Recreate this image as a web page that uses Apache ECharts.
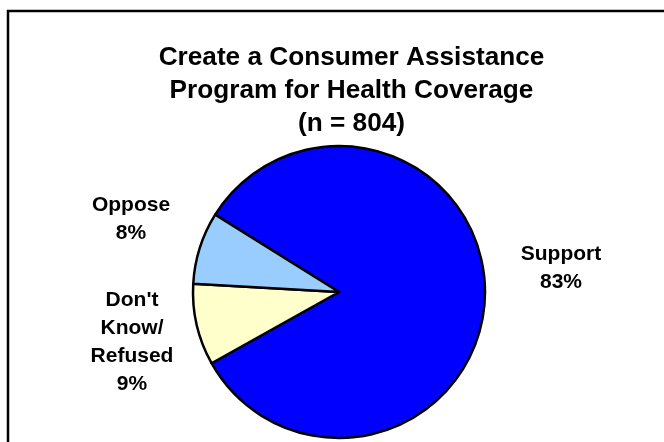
<!DOCTYPE html>
<html>
<head>
<meta charset="utf-8">
<script src="https://cdn.jsdelivr.net/npm/echarts@6/dist/echarts.min.js"></script>
<style>
html,body{margin:0;padding:0;background:#fff;}
#chart{width:664px;height:442px;}
</style>
</head>
<body>
<div id="chart"></div>
<script>
var titleLines = ['Create a Consumer Assistance', 'Program for Health Coverage', '(n = 804)'];
var categories = ['Support', "Don't\nKnow/\nRefused", 'Oppose'];
var values = [83, 9, 8];
var colors = ['#0000FF', '#FFFFCC', '#99CCFF'];

var labelPos = [[561, 268], [132, 342], [131, 219]];

var chart = echarts.init(document.getElementById('chart'));
chart.setOption({
  backgroundColor: '#ffffff',
  animation: false,
  title: {
    text: titleLines.join('\n'),
    left: 346.5,
    top: 36,
    textAlign: 'center',
    textStyle: {
      fontFamily: 'Liberation Sans, Arial, sans-serif',
      fontSize: 26.2,
      fontWeight: 'bold',
      color: '#000',
      lineHeight: 33
    }
  },
  graphic: [{
    type: 'rect',
    shape: {x: 8, y: 11, width: 700, height: 500},
    style: {fill: 'none', stroke: '#000', lineWidth: 2.5},
    silent: true,
    z: 100
  }],
  series: [{
    type: 'pie',
    center: [339, 292],
    radius: [0, 146],
    startAngle: 148,
    clockwise: true,
    avoidLabelOverlap: false,
    data: categories.map(function (c, i) {
      return {name: c, value: values[i], itemStyle: {color: colors[i]}};
    }),
    itemStyle: {borderColor: '#000', borderWidth: 2.5},
    label: {
      show: true,
      position: 'outside',
      formatter: function (p) { return p.name + '\n' + p.value + '%'; },
      fontFamily: 'Liberation Sans, Arial, sans-serif',
      fontSize: 21,
      fontWeight: 'bold',
      color: '#000',
      lineHeight: 28,
      align: 'center'
    },
    labelLine: {show: false},
    labelLayout: function (params) {
      var p = labelPos[params.dataIndex];
      return {x: p[0], y: p[1], align: 'center', verticalAlign: 'middle'};
    },
    emphasis: {disabled: true}
  }]
});
</script>
</body>
</html>
